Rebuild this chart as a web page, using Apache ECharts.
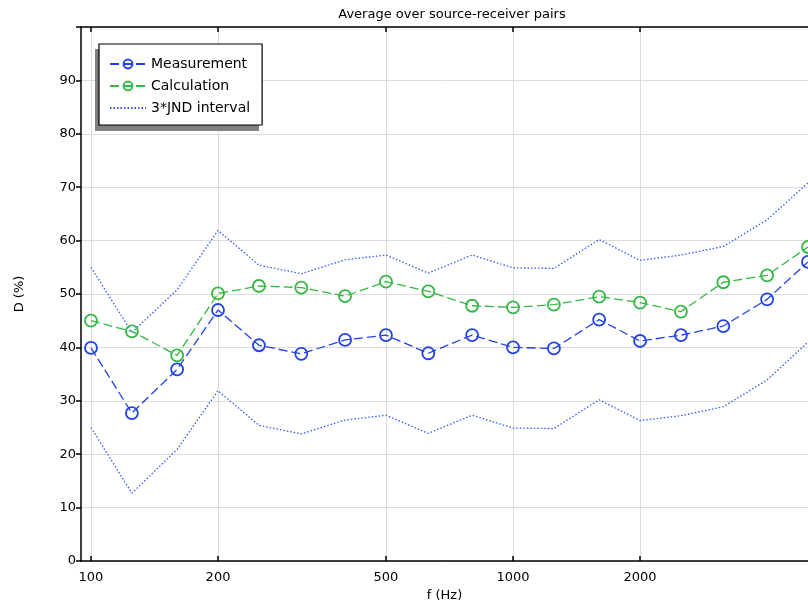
<!DOCTYPE html>
<html>
<head>
<meta charset="utf-8">
<script src="https://cdn.jsdelivr.net/npm/echarts@6/dist/echarts.min.js"></script>
<style>html,body{margin:0;padding:0;background:#fff}#c{width:808px;height:600px}</style>
</head>
<body>
<div id="c"></div>
<script>
const freqs = [100,125,160,200,250,315,400,500,630,800,1000,1250,1600,2000,2500,3150,4000,5000];
const measurement = [39.9,27.7,35.9,47.0,40.4,38.8,41.4,42.3,38.9,42.3,40.0,39.8,45.2,41.2,42.3,44.0,49.0,56.0];
const calculation = [45.0,43.0,38.5,50.1,51.5,51.2,49.6,52.3,50.5,47.8,47.5,48.0,49.5,48.4,46.7,52.2,53.5,58.8];
const jndUpper = [55.0,42.8,50.8,61.9,55.4,53.8,56.4,57.3,53.9,57.3,54.9,54.8,60.2,56.3,57.3,58.9,63.9,70.8];
const jndLower = [25.0,12.7,20.9,31.9,25.4,23.8,26.4,27.3,23.9,27.3,24.9,24.8,30.2,26.3,27.2,28.9,33.9,41.0];
const xTicks = [100,200,500,1000,2000];
const yTicks = [0,10,20,30,40,50,60,70,80,90];

const pairs = arr => freqs.map((f,i) => [f, arr[i]]);
const font = 'DejaVu Sans';
const blue = '#2142e8';
const green = '#34b843';
const dotBlue = '#3558ff';

const chart = echarts.init(document.getElementById('c'), null, {renderer:'canvas'});
const xBase = {
  type: 'log', logBase: 10, min: 94.7, max: 5000,
  axisLine: {show: true, lineStyle: {color: '#000', width: 1.5}},
  axisTick: {show: true, inside: true, length: 5, customValues: xTicks, lineStyle: {color: '#000', width: 1.5}},
  splitLine: {show: false},
  minorTick: {show: false}, minorSplitLine: {show: false}
};
chart.setOption({
  animation: false,
  textStyle: {fontFamily: font},
  title: {
    text: 'Average over source-receiver pairs', left: 447, top: 3, textAlign: 'center',
    textStyle: {fontFamily: font, fontSize: 13, fontWeight: 'normal', color: '#000'}
  },
  grid: {left: 81, right: 0, top: 27, bottom: 39, containLabel: false, outerBoundsMode: 'none'},
  graphic: [{
    type: 'rect', z: 1, shape: {x: 95, y: 49, width: 164, height: 82},
    style: {fill: '#808080'}
  }],
  legend: {
    left: 99, top: 44, orient: 'vertical', itemGap: 8, itemWidth: 36, itemHeight: 11,
    padding: [13, 12, 10, 10], backgroundColor: '#fff', borderColor: '#000', borderWidth: 1.2,
    textStyle: {fontFamily: font, fontSize: 14, color: '#000'},
    data: ['Measurement', 'Calculation', {name: '3*JND interval', itemStyle: {opacity: 0}}], z: 5
  },
  xAxis: [
    Object.assign({}, xBase, {
      position: 'bottom', name: 'f (Hz)', nameLocation: 'middle', nameGap: 21,
      nameTextStyle: {fontFamily: font, fontSize: 13, color: '#000'},
      axisLabel: {show: true, customValues: xTicks, color: '#000', fontSize: 13, fontFamily: font, margin: 10,
        formatter: v => String(Math.round(v))},
      splitLine: {show: true, lineStyle: {color: '#dcdcdc', width: 1}}
    }),
    Object.assign({}, xBase, {position: 'top', axisLabel: {show: false}})
  ],
  yAxis: {
    type: 'value', min: 0, max: 100, interval: 10,
    name: 'D (%)', nameLocation: 'middle', nameGap: 55, nameRotate: 90,
    nameTextStyle: {fontFamily: font, fontSize: 13, color: '#000'},
    axisLine: {show: true, lineStyle: {color: '#000', width: 1.5}},
    axisTick: {show: true, inside: false, length: 5, lineStyle: {color: '#000', width: 1.5}},
    axisLabel: {color: '#000', fontSize: 13, fontFamily: font, margin: 5,
      formatter: v => yTicks.indexOf(v) >= 0 ? String(v) : ''},
    splitLine: {show: true, lineStyle: {color: '#dcdcdc', width: 1}}
  },
  series: [
    {name: 'Measurement', type: 'line', data: pairs(measurement), symbol: 'circle', symbolSize: 12,
      itemStyle: {color: 'rgba(255,255,255,0)', borderColor: blue, borderWidth: 1.8},
      lineStyle: {color: blue, width: 1.3, type: [9, 4]}, color: blue, z: 4},
    {name: 'Calculation', type: 'line', data: pairs(calculation), symbol: 'circle', symbolSize: 12,
      itemStyle: {color: 'rgba(255,255,255,0)', borderColor: green, borderWidth: 1.8},
      lineStyle: {color: green, width: 1.3, type: [9, 4]}, color: green, z: 4},
    {name: '3*JND interval', type: 'line', data: pairs(jndUpper), symbol: 'none', showSymbol: false,
      lineStyle: {color: dotBlue, width: 1.3, type: [1.5, 2]}, itemStyle: {color: dotBlue}, z: 3},
    {name: '3*JND interval', type: 'line', data: pairs(jndLower), symbol: 'none', showSymbol: false,
      lineStyle: {color: dotBlue, width: 1.3, type: [1.5, 2]}, itemStyle: {color: dotBlue}, z: 3}
  ]
});
</script>
</body>
</html>
